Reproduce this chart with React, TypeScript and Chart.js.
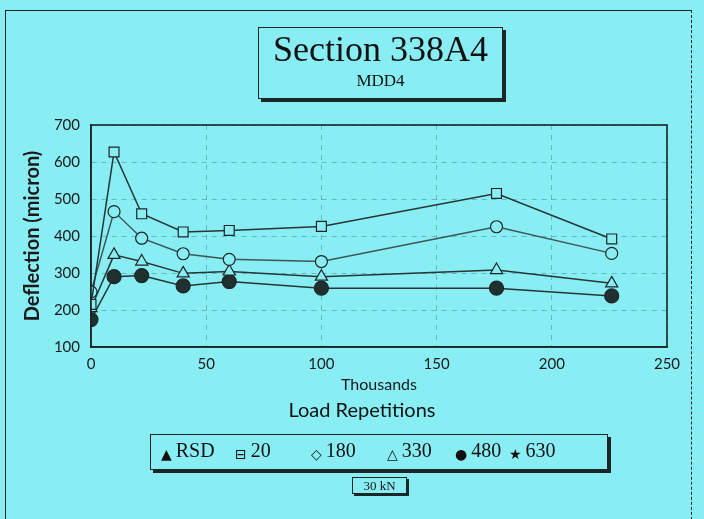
import React, { useEffect, useRef } from "react";
import { Chart, registerables } from "chart.js";

Chart.register(...registerables);

const repetitions = [0, 10, 22, 40, 60, 100, 176, 226];
const d20 = [215, 627, 460, 411, 415, 426, 515, 392];
const d180 = [249, 466, 394, 352, 337, 331, 425, 353];
const d330 = [205, 349, 331, 299, 304, 290, 308, 272];
const d480 = [174, 290, 293, 265, 277, 259, 259, 238];
const dRSD: number[] = [];
const d630: number[] = [];

const yTicks = [100, 200, 300, 400, 500, 600, 700];
const xTicks = [0, 50, 100, 150, 200, 250];

const legendNames = ["RSD", "20", "180", "330", "480", "630"];
const legendSymbols = ["▲", "⊟", "◇", "△", "●", "★"];

const BG = "#88eef4";
const INK = "#1b2626";
const GRID = "rgba(50,120,130,0.45)";

const pts = (vals: number[]) => vals.map((v, i) => ({ x: repetitions[i], y: v }));

const borderPlugin = {
  id: "plotBorder",
  afterDraw(chart: any) {
    const { ctx, chartArea } = chart;
    ctx.save();
    ctx.setLineDash([]);
    ctx.strokeStyle = INK;
    ctx.lineWidth = 1.6;
    ctx.strokeRect(chartArea.left, chartArea.top, chartArea.right - chartArea.left, chartArea.bottom - chartArea.top);
    ctx.restore();
  },
};

export default function App() {
  const ref = useRef<HTMLCanvasElement | null>(null);
  useEffect(() => {
    if (!ref.current) return;
    const ds = (label: string, vals: number[], style: any, radius: number, fill: string, line: string) => ({
      label,
      data: pts(vals),
      showLine: true,
      borderColor: line,
      borderWidth: 1.5,
      pointStyle: style,
      pointRadius: radius,
      pointBackgroundColor: fill,
      pointBorderColor: INK,
      pointBorderWidth: 1.2,
    });
    const chart = new Chart(ref.current, {
      type: "scatter",
      data: {
        datasets: [
          ds("RSD", dRSD, "triangle", 6, INK, INK),
          ds("20", d20, "rect", 7, BG, "#263535"),
          ds("180", d180, "circle", 6, BG, "#3d5656"),
          ds("330", d330, "triangle", 7, BG, "#263535"),
          ds("480", d480, "circle", 7, "#1f302e", "#263535"),
          ds("630", d630, "star", 6, INK, INK),
        ],
      },
      options: {
        animation: false,
        responsive: false,
        maintainAspectRatio: false,
        layout: { padding: { left: 14, right: 37, top: 125, bottom: 102 } },
        plugins: { legend: { display: false }, tooltip: { enabled: false } },
        scales: {
          x: {
            type: "linear",
            min: 0,
            max: 250,
            afterFit: (s: any) => { s.height = 70; },
            afterBuildTicks: (s: any) => { s.ticks = xTicks.map((v) => ({ value: v })); },
            ticks: { padding: 8, color: "#1a1a1a", font: { family: "Lato", size: 15 } },
            grid: { color: GRID, drawTicks: false, lineWidth: 1 },
            border: { display: true, color: INK, width: 1.6, dash: [5, 5] },
            title: { display: true, text: "Thousands", color: "#1a1a1a", font: { family: "Lato", size: 16 }, padding: { top: 0, bottom: 23 } },
          },
          y: {
            type: "linear",
            min: 100,
            max: 700,
            afterFit: (s: any) => { s.width = 77; },
            afterBuildTicks: (s: any) => { s.ticks = yTicks.map((v) => ({ value: v })); },
            ticks: { padding: 11, color: "#1a1a1a", font: { family: "Lato", size: 15 } },
            grid: { color: GRID, drawTicks: false, lineWidth: 1 },
            border: { display: true, color: INK, width: 1.6, dash: [5, 5] },
            title: { display: true, text: "Deflection (micron)", color: "#1a1a1a", font: { family: "Lato", size: 20, weight: "bold" }, padding: { top: 7, bottom: 0 } },
          },
        },
      },
      plugins: [borderPlugin],
    } as any);
    return () => chart.destroy();
  }, []);

  const boxStyle: React.CSSProperties = {
    position: "absolute",
    border: `1px solid ${INK}`,
    boxShadow: `3px 3px 0 ${INK}`,
    background: BG,
    boxSizing: "border-box",
  };

  const legendX = [160, 234, 310, 386, 454, 508];

  return (
    <div style={{ position: "fixed", left: 0, top: 0, width: 704, height: 519, background: BG, overflow: "hidden" }}>
      <div style={{ position: "absolute", left: 5, top: 10, width: 687, height: 530, borderTop: `1.5px solid ${INK}`, borderLeft: `1.5px solid ${INK}`, borderRight: `1.5px dashed ${INK}`, boxSizing: "border-box" }} />
      <canvas ref={ref} width={704} height={519} style={{ position: "absolute", left: 0, top: 0, width: 704, height: 519 }} />
      <div style={{ ...boxStyle, left: 258, top: 27, width: 245, height: 72, fontFamily: "Liberation Serif", color: "#111", textAlign: "center" }}>
        <div style={{ fontSize: 36, lineHeight: "40px", marginTop: 1 }}>Section 338A4</div>
        <div style={{ fontSize: 17, lineHeight: "22px", marginTop: 1 }}>MDD4</div>
      </div>
      <div style={{ position: "absolute", left: 0, width: 704, top: 397, textAlign: "center", fontFamily: "Lato", fontSize: 20, color: "#111", lineHeight: "24px", paddingLeft: 20, boxSizing: "border-box" }}>Load Repetitions</div>
      <div style={{ ...boxStyle, left: 150, top: 434, width: 458, height: 36, fontFamily: "Liberation Serif", color: "#111" }}>
        {legendNames.map((n, i) => (
          <div key={n} style={{ position: "absolute", left: legendX[i] - 150, top: 4, whiteSpace: "nowrap" }}>
            <span style={{ fontFamily: "DejaVu Sans", fontSize: 14, position: "relative", top: 2, marginRight: 4 }}>{legendSymbols[i]}</span>
            <span style={{ fontSize: 20 }}>{n}</span>
          </div>
        ))}
      </div>
      <div style={{ ...boxStyle, left: 352, top: 477, width: 55, height: 17, boxShadow: `2px 2px 0 ${INK}`, fontFamily: "Liberation Serif", fontSize: 13, lineHeight: "15px", textAlign: "center", color: "#111" }}>30 kN</div>
    </div>
  );
}
